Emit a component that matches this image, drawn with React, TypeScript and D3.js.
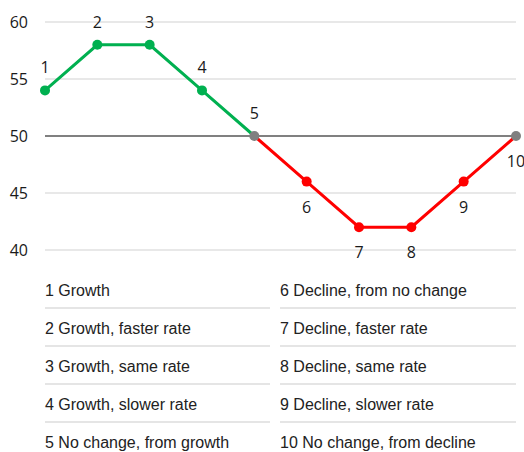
import React from "react";
import * as d3 from "d3";

const stages = [1, 2, 3, 4, 5, 6, 7, 8, 9, 10];
const values = [54, 58, 58, 54, 50, 46, 42, 42, 46, 50];
const yTicks = [40, 45, 50, 55, 60];
const leftLabels = ["1 Growth", "2 Growth, faster rate", "3 Growth, same rate", "4 Growth, slower rate", "5 No change, from growth"];
const rightLabels = ["6 Decline, from no change", "7 Decline, faster rate", "8 Decline, same rate", "9 Decline, slower rate", "10 No change, from decline"];

const W = 524, H = 452;
const GREEN = "#00B050", RED = "#FF0000", GRAY = "#808080";

export default function App() {
  const x = d3.scaleLinear().domain([1, 10]).range([45, 516]);
  const y = d3.scaleLinear().domain([40, 60]).range([250, 22]);
  const pts = stages.map((s, i) => ({ s, v: values[i] }));
  const line = d3.line<{ s: number; v: number }>().x(d => x(d.s)).y(d => y(d.v));
  const growth = pts.slice(0, 5);
  const decline = pts.slice(4);
  const rowY = d3.scaleLinear().domain([0, 4]).range([296, 448]);
  const labelFont = "'Open Sans', 'Noto Sans', sans-serif";
  const tableFont = "'Liberation Sans', Arial, sans-serif";
  return (
    <svg width={W} height={H} style={{ position: "absolute", left: 0, top: 0, background: "#fff" }}>
      {yTicks.filter(t => t !== 50).map(t => (
        <line key={t} x1={x(1)} x2={x(10)} y1={y(t)} y2={y(t)} stroke="#e0e0e0" strokeWidth={1.5} />
      ))}
      <line x1={x(1)} x2={x(10)} y1={y(50)} y2={y(50)} stroke={GRAY} strokeWidth={2} />
      {yTicks.map(t => (
        <text key={t} x={28} y={y(t) + 6} textAnchor="end" fontFamily={labelFont} fontSize={16} fill="#1a1a1a">{t}</text>
      ))}
      <path d={line(growth) || ""} fill="none" stroke={GREEN} strokeWidth={3} />
      <path d={line(decline) || ""} fill="none" stroke={RED} strokeWidth={3} />
      {pts.map((p, i) => {
        const c = p.v === 50 ? GRAY : i < 4 ? GREEN : RED;
        return <circle key={p.s} cx={x(p.s)} cy={y(p.v)} r={5} fill={c} />;
      })}
      {pts.map((p, i) => (
        <text key={"l" + p.s} x={x(p.s)} y={i < 5 ? y(p.v) - 17 : y(p.v) + 31} textAnchor="middle" fontFamily={labelFont} fontSize={16} fill="#1a1a1a">{p.s}</text>
      ))}
      {leftLabels.map((l, i) => (
        <text key={"a" + i} x={45} y={rowY(i)} fontFamily={tableFont} fontSize={16} fill="#222">{l}</text>
      ))}
      {rightLabels.map((l, i) => (
        <text key={"b" + i} x={280} y={rowY(i)} fontFamily={tableFont} fontSize={16} fill="#222">{l}</text>
      ))}
      {[0, 1, 2, 3].map(i => (
        <g key={"s" + i}>
          <line x1={45} x2={270} y1={rowY(i) + 12} y2={rowY(i) + 12} stroke="#dcdcdc" strokeWidth={1.5} />
          <line x1={280} x2={516} y1={rowY(i) + 12} y2={rowY(i) + 12} stroke="#dcdcdc" strokeWidth={1.5} />
        </g>
      ))}
    </svg>
  );
}
